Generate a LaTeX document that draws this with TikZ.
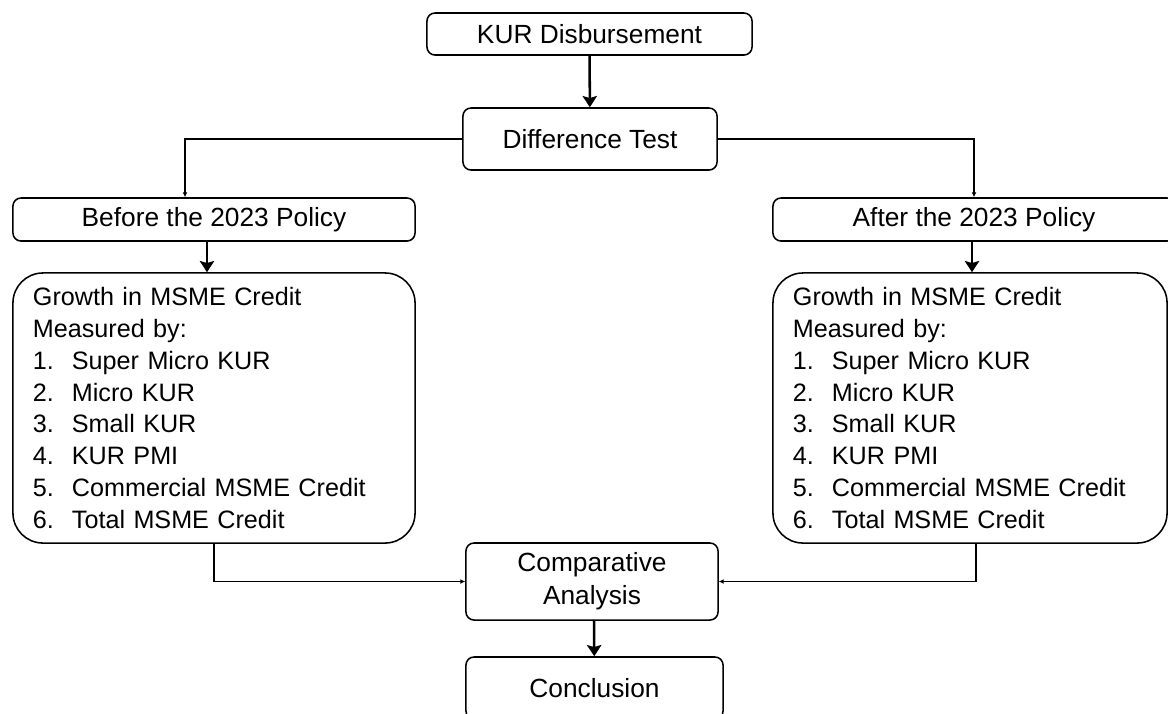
\documentclass[tikz,border=0pt]{standalone}
\usepackage{fontspec}
\setmainfont{Liberation Sans}
\usetikzlibrary{arrows.meta}
\newcommand{\itemno}[1]{\makebox[0.975cm][l]{#1.}}

\begin{document}
\begin{tikzpicture}[
				x=0.025cm, y=-0.025cm,
				box/.style={
					draw,
					rectangle,
					rounded corners=0.2cm,
					line width=1.1pt,
					align=center,
					inner sep=0pt,
					font=\fontsize{18.7}{23.5}\selectfont
				},
				listbox/.style={
					draw,
					rectangle,
					rounded corners=0.75cm,
					line width=1.1pt,
					align=left,
					inner xsep=0.5cm,
					inner ysep=0pt,
					minimum height=6.75cm,
					font=\fontsize{17.9}{22.6}\selectfont
				},
				flow/.style={line width=1.8pt,-{Stealth[length=0.28cm,width=0.36cm,inset=0.05cm]}},
				link/.style={line width=1pt,-{Latex[length=0.12cm,width=0.12cm]}}
				]
				\useasboundingbox (0,0) rectangle (1168,713);
				\clip (0,0) rectangle (1168,713);
				\node[box,minimum width=8.125cm,minimum height=1.05cm] (kur) at (589.5,34) {KUR Disbursement};
				\node[box,minimum width=6.35cm,minimum height=1.55cm] (diff) at (590,139) {Difference Test};
				\node[box,minimum width=10.05cm,minimum height=1.075cm] (before) at (214,219.5) {Before the 2023 Policy};
				\node[box,minimum width=10.05cm,minimum height=1.075cm] (after) at (974,219.5) {After the 2023 Policy};
				\node[listbox,text width=9.05cm] (growthL) at (214,408) {Growth in MSME Credit\\
					Measured by:\\
					\itemno{1}Super Micro KUR\\
					\itemno{2}Micro KUR\\
					\itemno{3}Small KUR\\
					\itemno{4}KUR PMI\\
					\itemno{5}Commercial MSME Credit\\
					\itemno{6}Total MSME Credit};
				\node[listbox,text width=8.85cm] (growthR) at (970,408) {Growth in MSME Credit\\
					Measured by:\\
					\itemno{1}Super Micro KUR\\
					\itemno{2}Micro KUR\\
					\itemno{3}Small KUR\\
					\itemno{4}KUR PMI\\
					\itemno{5}Commercial MSME Credit\\
					\itemno{6}Total MSME Credit};
				\node[box,minimum width=6.3cm,minimum height=1.925cm] (comp) at (592,581.5) {Comparative\\Analysis};
				\node[box,minimum width=6.425cm,minimum height=1.55cm] (concl) at (594.5,688) {Conclusion};
				
				\draw[flow] (kur) -- (diff);
				\draw[link] (diff.west) -| ([xshift=-0.725cm]before.north);
				\draw[link] (diff.east) -| (after.north);
				\draw[flow] ([xshift=-0.175cm]before.south) -- ([xshift=-0.175cm]growthL.north);
				\draw[flow] ([xshift=-0.05cm]after.south) -- ([xshift=-0.05cm]after.south |- growthR.north);
				\draw[link] (growthL.south) |- (comp.west);
				\draw[link] ([xshift=0.15cm]growthR.south) |- (comp.east);
				\draw[flow] ([xshift=0.05cm]comp.south) -- (concl);
			\end{tikzpicture}
\end{document}
